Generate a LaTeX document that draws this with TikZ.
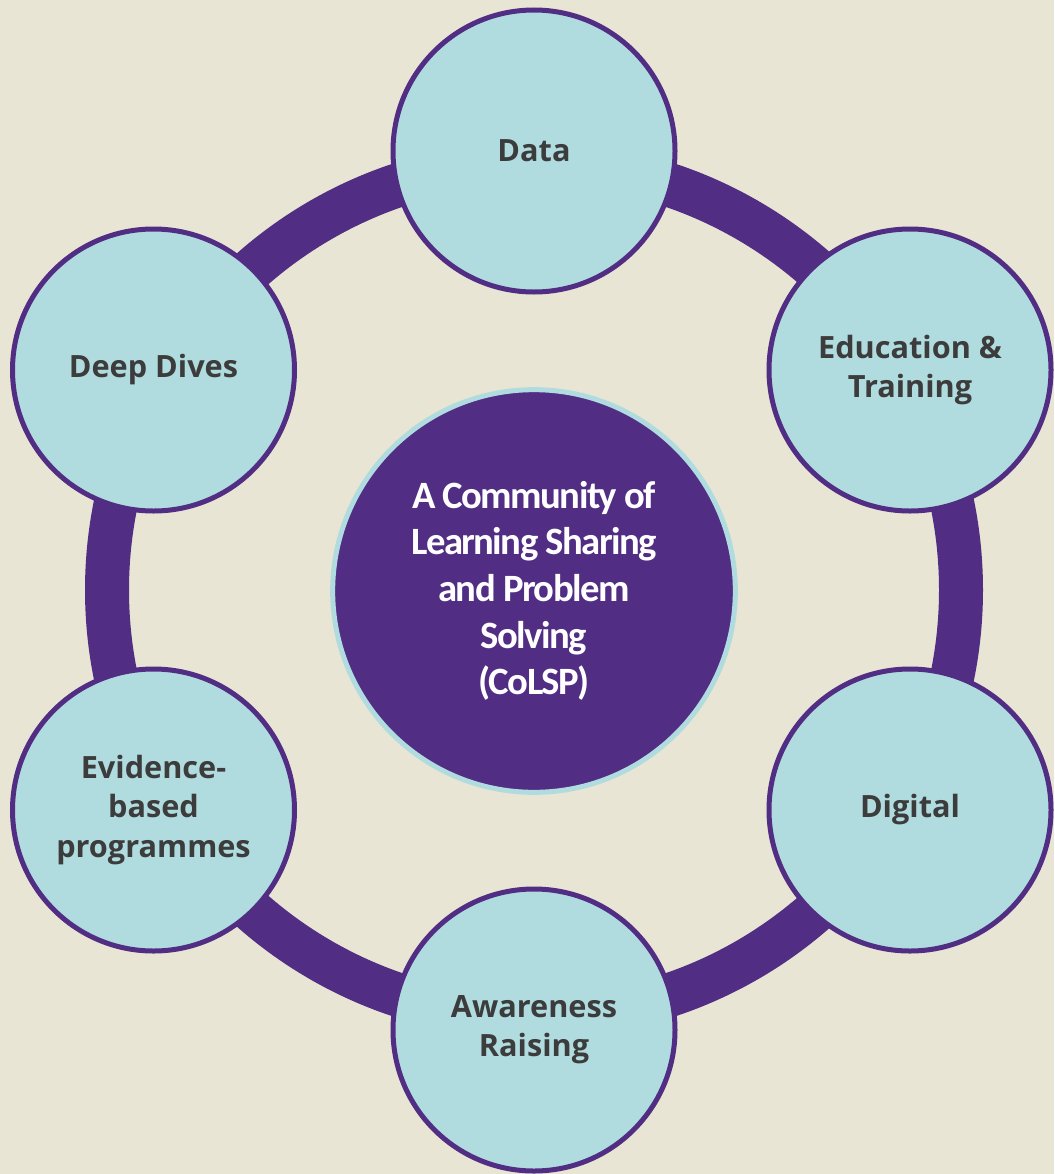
\documentclass[tikz,border=0pt]{standalone}
\usepackage{fontspec}
\setmainfont{Open Sans}
\newfontfamily\hubfont[LetterSpace=-4]{Carlito}
\definecolor{bgbeige}{HTML}{E8E5D4}
\definecolor{ringpurple}{HTML}{512E84}
\definecolor{topicteal}{HTML}{B0DCDF}
\definecolor{labelgray}{HTML}{3C3C3C}

\begin{document}
\begin{tikzpicture}[x=0.75pt,y=-0.75pt,
  topic/.style={draw=ringpurple,line width=3.75pt,fill=topicteal,circle,inner sep=0pt,
    minimum size=211.5pt,align=center,text=labelgray,font=\bfseries\fontsize{23}{29.5}\selectfont},
  hub/.style={draw=topicteal,line width=3.75pt,fill=ringpurple,circle,inner sep=0pt,
    minimum size=302pt,align=center,text=white,font=\hubfont\bfseries\fontsize{29}{35}\selectfont}]

  \fill[bgbeige] (0,0) rectangle (1054,1174);
  \useasboundingbox (0,0) rectangle (1054,1174);

  \coordinate (c) at (534,590);
  \draw[ringpurple,line width=33pt] (c) circle[radius=427];

  \node[topic] at (534,151) (n-data) {Data};
  \node[topic] at (910,370) (n-edu) {Education \&\\Training};
  \node[topic] at (910,810) (n-digital) {Digital};
  \node[topic] at (534,1030) (n-aware) {Awareness\\Raising};
  \node[topic] at (153.5,810) (n-evidence) {Evidence-\\based\\programmes};
  \node[topic] at (153.5,370) (n-dives) {Deep Dives};

  \node[hub] at (534,591) (n-hub) {A Community of\\Learning Sharing\\and Problem\\Solving\\(CoLSP)};

\end{tikzpicture}
\end{document}
